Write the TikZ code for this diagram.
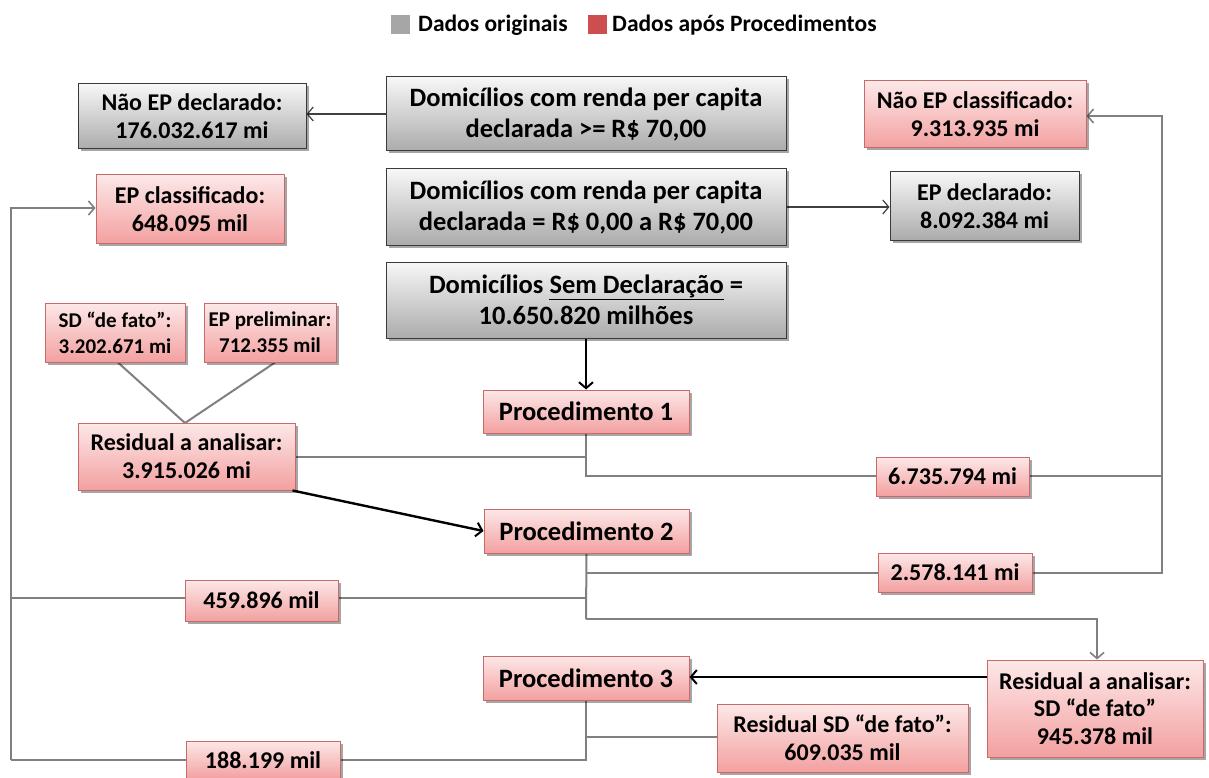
\documentclass[tikz,border=0pt]{standalone}
\usepackage{fontspec}
\setmainfont{Carlito}
\usetikzlibrary{arrows.meta,shadows,backgrounds}
\definecolor{gline}{HTML}{808080}
\definecolor{gborder}{HTML}{3A3A3A}
\definecolor{gtop}{HTML}{F7F7F7}
\definecolor{gbot}{HTML}{ABABAB}
\definecolor{rborder}{HTML}{C96A6A}
\definecolor{rtop}{HTML}{FDE8E8}
\definecolor{rbot}{HTML}{F3A0A0}
\definecolor{legg}{HTML}{A6A6A6}
\definecolor{legr}{HTML}{CC4E4E}
\definecolor{thinc}{HTML}{404040}
\newcommand\fbig{\fontsize{26.5}{31}\selectfont\bfseries}
\newcommand\fmid{\fontsize{24}{28}\selectfont\bfseries}
\newcommand\fres{\fontsize{24}{27.5}\selectfont\bfseries}
\newcommand\fsmall{\fontsize{21}{26}\selectfont\bfseries}
\newcommand\fleg{\fontsize{23.5}{26}\selectfont\bfseries}
\tikzset{
  box/.style={draw, line width=1pt, align=center, inner sep=0pt,
    drop shadow={shadow xshift=2.5pt, shadow yshift=-2.5pt, opacity=0.35, fill=black}},
  orig/.style={box, draw=gborder, top color=gtop, bottom color=gbot},
  proc/.style={box, draw=rborder, top color=rtop, bottom color=rbot},
  conn/.style={draw=gline, line width=2pt},
  garrow/.style={conn, -{Straight Barb[length=6pt,width=14pt,line width=1.6pt]}},
  barrow/.style={draw=black, line width=2.4pt, -{Straight Barb[length=6pt,width=14pt,line width=2pt]}},
  tarrow/.style={draw=thinc, line width=1.2pt, -{Straight Barb[length=6pt,width=14pt,line width=1.2pt]}},
  legsq/.style={inner sep=0pt, minimum size=19pt}
}
\begin{document}
\begin{tikzpicture}[x=1pt,y=-1pt]
\useasboundingbox (0,0) rectangle (1209,778);
% legend
\node[legsq, fill=legg] (lg) at (400,25) {};
\node[anchor=west, inner sep=0pt, font=\fleg] (lgt) at (418,25) {Dados originais};
\node[legsq, fill=legr] (lr) at (597,25) {};
\node[anchor=west, inner sep=0pt, font=\fleg] (lrt) at (612,25) {Dados após Procedimentos};
% boxes
\node[orig, minimum width=228pt, minimum height=65pt, font=\fmid] (nepd) at (192,116.5) {Não EP declarado:\\176.032.617 mi};
\node[orig, minimum width=400pt, minimum height=74pt, font=\fbig] (b1) at (586,114) {Domicílios com renda per capita\\declarada >= R\$ 70,00};
\node[proc, minimum width=222pt, minimum height=67pt, font=\fmid] (nepc) at (975,114.5) {Não EP classificado:\\9.313.935 mi};
\node[proc, minimum width=188pt, minimum height=68pt, font=\fmid] (epc) at (190,209) {EP classificado:\\648.095 mil};
\node[orig, minimum width=400pt, minimum height=76pt, font=\fbig] (b2) at (586,207) {Domicílios com renda per capita\\declarada = R\$ 0,00 a R\$ 70,00};
\node[orig, minimum width=189pt, minimum height=68pt, font=\fmid] (epd) at (984.5,206) {EP declarado:\\8.092.384 mi};
\node[orig, minimum width=400pt, minimum height=76pt, font=\fbig] (b3) at (586,300) {Domicílios \underline{Sem Declaração} =\\10.650.820 milhões};
\node[proc, minimum width=140pt, minimum height=59pt, font=\fsmall] (sdf) at (115,332.5) {SD “de fato”:\\3.202.671 mi};
\node[proc, minimum width=132pt, minimum height=59pt, font=\fsmall] (epp) at (270,332.5) {EP preliminar:\\712.355 mil};
\node[proc, minimum width=206pt, minimum height=43pt, font=\fbig] (p1) at (586,411.5) {Procedimento 1};
\node[proc, minimum width=217pt, minimum height=67pt, font=\fmid] (res1) at (186.5,456.5) {Residual a analisar:\\3.915.026 mi};
\node[proc, minimum width=153pt, minimum height=39pt, font=\fmid] (n6735) at (952.5,476.5) {6.735.794 mi};
\node[proc, minimum width=205pt, minimum height=44pt, font=\fbig] (p2) at (586.5,531) {Procedimento 2};
\node[proc, minimum width=154pt, minimum height=39pt, font=\fmid] (n2578) at (955,572.5) {2.578.141 mi};
\node[proc, minimum width=153pt, minimum height=41pt, font=\fmid] (n459) at (261.5,600.5) {459.896 mil};
\node[proc, minimum width=216pt, minimum height=97pt, font=\fres] (res2) at (1095,708.5) {Residual a analisar:\\SD “de fato”\\945.378 mil};
\node[proc, minimum width=206pt, minimum height=44pt, font=\fbig] (p3) at (586,678) {Procedimento 3};
\node[proc, minimum width=251pt, minimum height=68pt, font=\fmid] (ressd) at (842.5,738) {Residual SD “de fato”:\\609.035 mil};
\node[proc, minimum width=154pt, minimum height=38pt, font=\fmid] (n188) at (263,760) {188.199 mil};
% helper coordinates
\coordinate (rtop) at (1162,116);
\coordinate (j476) at (586,476);
\coordinate (j573) at (586,573);
\coordinate (j598) at (586,598);
\coordinate (j619) at (586,619);
\coordinate (lx598) at (11,598);
\coordinate (lx208) at (11,208);
\coordinate (lx760) at (11,760);
\coordinate (j760) at (586,760);
\coordinate (j737) at (586,737);
\coordinate (apex) at (185,423);
\begin{scope}[on background layer]
\draw[tarrow] (b1.west) -- (nepd.east |- b1.west);
\draw[tarrow] (b2.east) -- (epd.west |- b2.east);
\draw[conn] (sdf.south) ++(3,0) -- (apex);
\draw[conn] (epp.south) ++(5,0) -- (apex);
\draw[conn] (p1.south) -- (j476) -- (rtop |- j476);
\draw[conn] (res1.east) -- (p1 |- res1.east);
\draw[garrow] (j573) -| (rtop) -- (nepc.east |- rtop);
\draw[conn] (p2.south) -- (j619);
\draw[garrow] (j619) -| ([xshift=2pt]res2.north);
\draw[conn] (j598) -- (lx598);
\draw[garrow] (lx760) -- (lx208) -- (epc.west |- lx208);
\draw[conn] (lx760) -- (j760) -- (p3.south);
\draw[conn] (j737) -- (ressd.west |- j737);
\end{scope}
\draw[barrow] (b3.south) -- (p1.north);
\draw[barrow] ([xshift=-3pt]res1.south east) -- (p2.west);
\draw[barrow] (res2.west |- 0,677) -- (p3.east |- 0,677);
\end{tikzpicture}
\end{document}
